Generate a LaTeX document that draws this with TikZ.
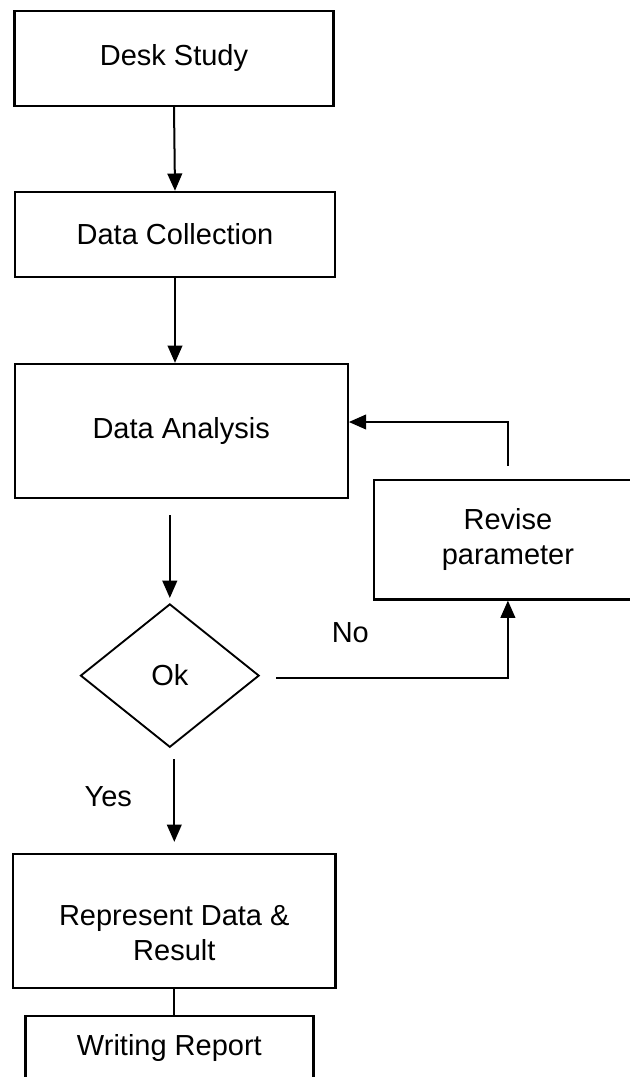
\documentclass[tikz,border=0pt]{standalone}
\usepackage{fontspec}
\setmainfont{Liberation Sans}
\usepackage{tikz}
\usetikzlibrary{shapes.geometric,arrows.meta}

\begin{document}
\begin{tikzpicture}[x=0.75pt,y=-0.75pt,
  every node/.style={font=\fontsize{21.75pt}{26.5pt}\selectfont},
  box/.style={draw, line width=1.7pt, rectangle, align=center},
  decision/.style={draw, line width=1.4pt, diamond, minimum width=134pt, minimum height=107.5pt},
  arr/.style={line width=1.5pt, -{Triangle[length=13pt,width=11pt]}}]

\useasboundingbox (0,0) rectangle (630,1077);

% A. Main column of boxes
\node[box, minimum width=239.25pt, minimum height=71.25pt] (desk) at (174,58.5) {Desk Study};
\node[box, minimum width=240.2pt, minimum height=63.5pt] (collect) at (175,234.3) {Data Collection};
\node[box, minimum width=249.75pt, minimum height=100.5pt] (analysis) at (181.2,431) {Data Analysis};
\node[decision] (ok) at (169.8,675.6) {Ok};
\node[box, minimum width=241.9pt, minimum height=100.5pt] (represent) at (174.3,921) {};
\node[align=center] (representtxt) at (174.3,933) {Represent Data \&\\Result};
\node[box, minimum width=216pt, minimum height=48pt] (report) at (169.4,1048) {Writing Report};

% B. Side box for the loop
\node[box, minimum width=201.2pt, minimum height=89.6pt] (revise) at (507.9,539.7) {Revise\\parameter};

% C. Labels on the branches
\node (nolbl) at (350.3,632.3) {No};
\node (yeslbl) at (108.3,796.7) {Yes};

% D. Connectors
\draw[arr] (desk.south) -- (collect.north);
\draw[arr] (collect.south) -- (collect.south |- analysis.north);
\draw[arr, shorten <=12pt, shorten >=3.75pt] (ok.north |- analysis.south) -- (ok.north);
\draw[arr, shorten <=12pt] ([yshift=-1.8pt]ok.east) -| (revise.south);
\draw[arr, shorten <=9.75pt] (revise.north) |- ([yshift=6.75pt]analysis.east);
\draw[arr, shorten <=8.25pt, shorten >=8.25pt] (represent.north |- ok.south) -- (represent.north);
\draw[line width=1.5pt] (represent.south) -- (represent.south |- report.north);

\end{tikzpicture}
\end{document}
